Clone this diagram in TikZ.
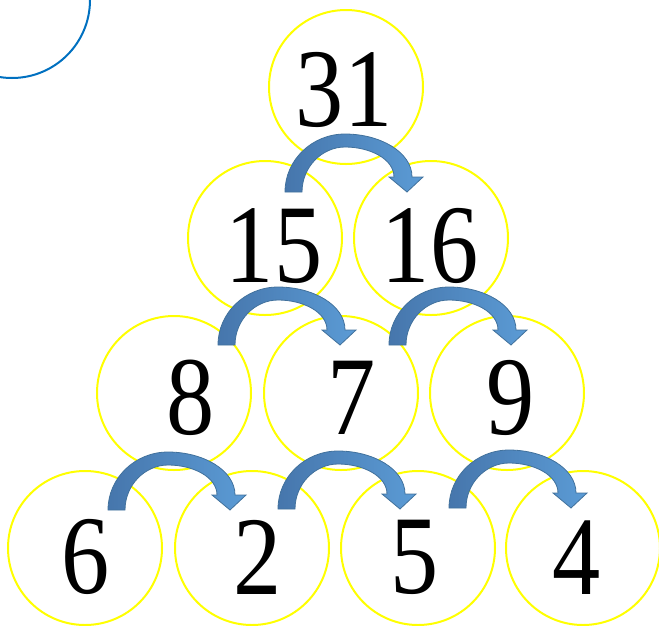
\documentclass[tikz,border=0pt]{standalone}
\usepackage{fontspec}
\setmainfont{Liberation Serif}
\newfontfamily\numfont[FakeStretch=0.86]{Liberation Serif}
\usetikzlibrary{positioning}
\definecolor{ringyellow}{HTML}{FFFF00}
\definecolor{cornerblue}{HTML}{0070C0}
\definecolor{arrowdark}{HTML}{4676AC}
\definecolor{arrowlight}{HTML}{5B9BD5}
\definecolor{arrowline}{HTML}{41719C}

\tikzset{
  bendarrow/.pic={
    \path[draw=arrowline, line width=0.8pt, left color=arrowdark, middle color=arrowdark!60!arrowlight, right color=arrowlight]
      (0,0) -- (17,0) .. controls (17,25) and (37,45) .. (60,45)
      .. controls (85,45) and (109,33) .. (109,15)
      -- (104,15) -- (122,0) -- (138,15) -- (127,15)
      .. controls (127,40) and (95,58) .. (60,58)
      .. controls (27,58) and (0,32) .. (0,0) -- cycle;
  }
}

\begin{document}
\begin{tikzpicture}[
    x=1pt, y=1pt, yscale=-1,
    ring/.style={circle, draw=ringyellow, line width=2pt, minimum size=154pt, inner sep=0pt},
    corner/.style={circle, draw=cornerblue, line width=2pt, minimum size=156pt, inner sep=0pt},
    num/.style={font=\numfont\fontsize{112}{114}\selectfont, inner sep=0pt},
  ]
    \useasboundingbox (0,0) rectangle (659,625);
    \clip (0,0) rectangle (659,625);
    \node[corner] (corner) at (12,0) {};
    % circles of the pyramid
    \foreach \name/\x/\y in {31/346/87, 15/265/238, 16/431/238,
        8/174/393, 7/341/393, 9/507/393,
        6/85/548, 2/252/548, 5/418/548, 4/583/548}
      \node[ring] (c\name) at (\x,\y) {};
    % curved arrows
    \foreach \x/\y in {285/192, 218/345, 389/345, 108/510, 278/509, 449/508}
      \pic at (\x,\y) {bendarrow};
    % numbers
    \foreach \name/\x/\y in {31/344/90, 15/274/246, 16/430/246,
        8/191/398, 7/352/398, 9/511/398,
        6/86/557, 2/258/557, 5/415/557, 4/577/558}
      \node[num] (n\name) at (\x,\y) {\name};
\end{tikzpicture}
\end{document}
